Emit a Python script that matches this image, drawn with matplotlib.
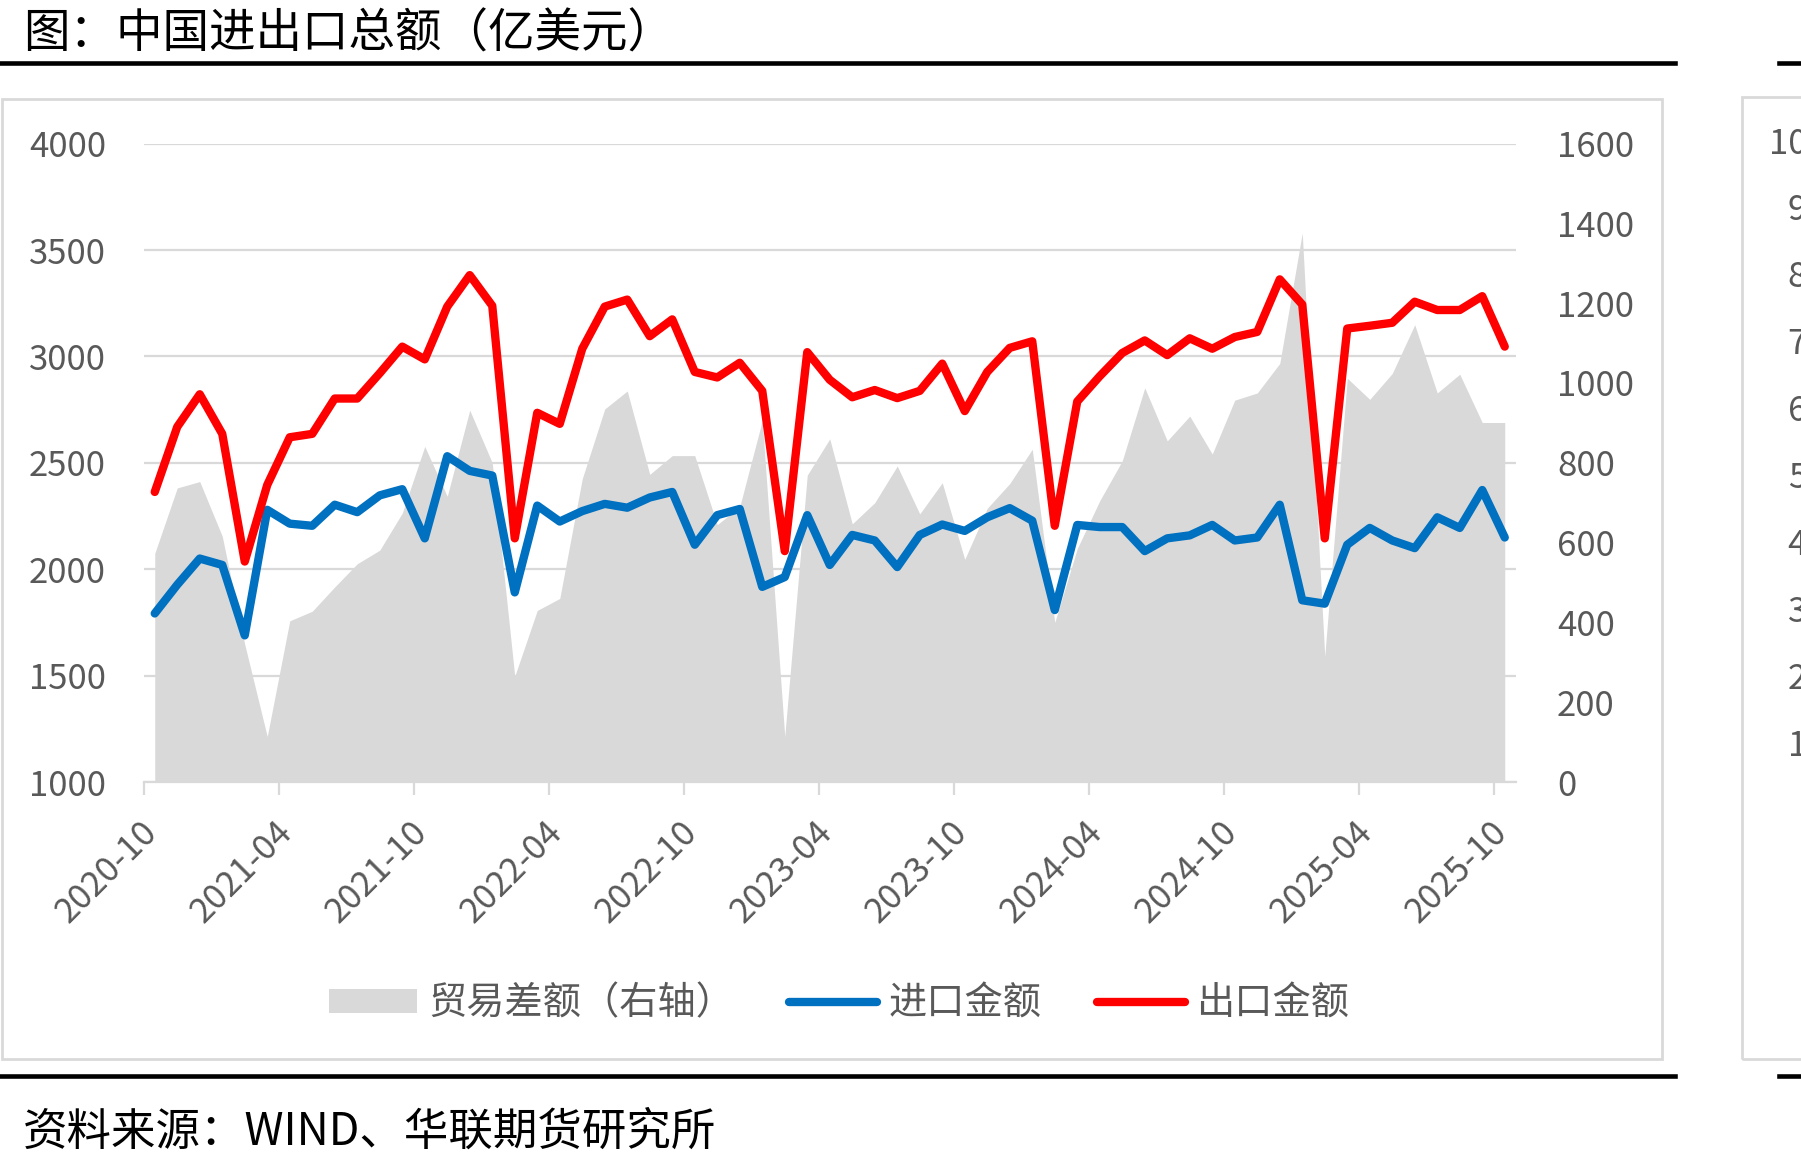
import matplotlib
matplotlib.use("Agg")
import matplotlib.pyplot as plt
import matplotlib.transforms as mtransforms
from matplotlib.lines import Line2D
from matplotlib.patches import Patch, Rectangle
import numpy as np

plt.rcParams['font.family'] = ['Noto Sans CJK SC', 'DejaVu Sans']

# 月度数据 2020-10 ~ 2025-10（亿美元）
tick_labels = ['2020-10', '2021-04', '2021-10', '2022-04', '2022-10', '2023-04',
               '2023-10', '2024-04', '2024-10', '2025-04', '2025-10']

exports = [2363, 2669, 2822, 2636, 2036, 2396, 2620, 2636, 2802, 2802,
           2921, 3046, 2986, 3234, 3382, 3238, 2145, 2735, 2683, 3036,
           3234, 3267, 3095, 3174, 2927, 2901, 2970, 2838, 2085, 3020,
           2890, 2808, 2842, 2804, 2838, 2966, 2743, 2927, 3040, 3071,
           2204, 2788, 2907, 3016, 3075, 3006, 3085, 3036, 3091, 3115,
           3362, 3244, 2145, 3131, 3144, 3158, 3257, 3218, 3218, 3283,
           3046]

imports = [1792, 1927, 2050, 2020, 1689, 2279, 2214, 2204, 2303, 2268,
           2347, 2376, 2145, 2531, 2462, 2440, 1891, 2299, 2224, 2273,
           2307, 2289, 2337, 2363, 2115, 2254, 2283, 1917, 1963, 2254,
           2020, 2161, 2135, 2010, 2161, 2210, 2180, 2244, 2287, 2228,
           1808, 2208, 2198, 2198, 2085, 2145, 2159, 2208, 2135, 2149,
           2303, 1854, 1838, 2115, 2194, 2135, 2099, 2244, 2194, 2372,
           2149]

balance = [573, 737, 753, 616, 345, 114, 404, 428, 489, 547,
           581, 674, 841, 716, 932, 800, 265, 430, 460, 760,
           935, 980, 771, 818, 818, 645, 690, 906, 114, 769,
           860, 647, 700, 792, 672, 750, 558, 686, 748, 834,
           400, 585, 705, 805, 988, 855, 917, 822, 957, 975,
           1049, 1376, 315, 1012, 959, 1024, 1146, 975, 1022, 901,
           901]

left_ticks = [1000, 1500, 2000, 2500, 3000, 3500, 4000]
right_ticks = [0, 200, 400, 600, 800, 1000, 1200, 1400, 1600]
side_ticks = [10, 20, 30, 40, 50, 60, 70, 80, 90, 100]  # 右侧被截断的另一张图

GRAY = '#D9D9D9'
TXT = '#595959'

W, H = 1801, 1165
fig = plt.figure(figsize=(W / 100, H / 100), dpi=100)


def fx(px):
    return px / W


def fy(py):
    return 1 - py / H


x = np.arange(len(exports))
rect = [fx(143.5), fy(782), fx(1516) - fx(143.5), fy(143.6) - fy(782)]

# 左轴：网格 + 刻度
ax = fig.add_axes(rect)
ax.set_zorder(0)
for s in ['top', 'left', 'right']:
    ax.spines[s].set_visible(False)
ax.spines['bottom'].set_color(GRAY)
ax.spines['bottom'].set_linewidth(1.6)
ax.grid(axis='y', color=GRAY, lw=1.6)
ax.set_axisbelow(True)
ax.set_yticks(left_ticks)
ax.tick_params(axis='y', length=0, pad=27, labelsize=25, labelcolor=TXT)
ax.set_xticks(np.arange(-0.5, len(exports), 6))
ax.set_xticklabels(tick_labels, rotation=45, ha='right', va='center',
                   rotation_mode='anchor')
ax.tick_params(axis='x', length=9.5, width=1.6, color=GRAY, direction='out',
               labelsize=25, labelcolor=TXT, pad=23)
shift = mtransforms.ScaledTranslation(9 / 100, 0, fig.dpi_scale_trans)
for lab in ax.get_xticklabels():
    lab.set_transform(lab.get_transform() + shift)

# 右轴：贸易差额面积
ax2 = ax.twinx()
ax2.set_zorder(1)
ax2.patch.set_visible(False)
ax2.fill_between(x, 0, balance, color=GRAY, lw=0)
for s in ax2.spines.values():
    s.set_visible(False)
ax2.set_ylim(0, 1600)
ax2.set_yticks(right_ticks)
ax2.tick_params(axis='y', length=0, pad=29.5, labelsize=25, labelcolor=TXT)

# 进出口折线（使用左轴刻度）
ax3 = fig.add_axes(rect, sharex=ax, sharey=ax, label='lines')
ax3.set_zorder(2)
ax3.patch.set_visible(False)
ax3.axis('off')
ax3.plot(x, imports, color='#0070C0', lw=6, solid_capstyle='round', solid_joinstyle='round')
ax3.plot(x, exports, color='#FF0000', lw=6, solid_capstyle='round', solid_joinstyle='round')

ax.set_xlim(-0.5, len(exports) - 0.5)
ax.set_ylim(1000, 4000)

# 图例
handles = [Patch(facecolor=GRAY, edgecolor='none', label='贸易差额（右轴）'),
           Line2D([], [], color='#0070C0', lw=6, solid_capstyle='round', label='进口金额'),
           Line2D([], [], color='#FF0000', lw=6, solid_capstyle='round', label='出口金额')]
fig.legend(handles=handles, loc='center', bbox_to_anchor=(fx(839), fy(1004)), ncol=3,
           frameon=False, fontsize=27.5, handlelength=2.3, handleheight=0.6,
           handletextpad=0.3, columnspacing=1.45, labelcolor=TXT)

# 外框与分隔线
fig.add_artist(Rectangle((fx(2), fy(1059)), fx(1662) - fx(2), fy(99) - fy(1059),
                         transform=fig.transFigure, fill=False, edgecolor=GRAY, lw=2))
fig.add_artist(Rectangle((fx(1742), fy(1059)), fx(400), fy(97) - fy(1059),
                         transform=fig.transFigure, fill=False, edgecolor=GRAY, lw=2))
for y0 in [63, 1076]:
    fig.add_artist(Line2D([0, fx(1675)], [fy(y0), fy(y0)], color='black', lw=3.3,
                          transform=fig.transFigure))
    fig.add_artist(Line2D([fx(1779), 1.0], [fy(y0), fy(y0)], color='black', lw=3.3,
                          transform=fig.transFigure))

# 右侧另一张图的刻度（被裁切）
axs = fig.add_axes([fx(1836), fy(809), 0.05, fy(140) - fy(809)])
axs.patch.set_visible(False)
for s in axs.spines.values():
    s.set_visible(False)
axs.set_ylim(0, 100)
axs.set_yticks(side_ticks)
axs.set_xticks([])
axs.tick_params(axis='y', length=0, pad=7, labelsize=25, labelcolor=TXT)

fig.text(fx(23), fy(34), '图：中国进出口总额（亿美元）', fontsize=33.5, va='center', ha='left', color='black')
fig.text(fx(23), fy(1132), '资料来源：WIND、华联期货研究所', fontsize=32, va='center', ha='left', color='black')

fig.savefig('out.png', dpi=100, facecolor='white')
